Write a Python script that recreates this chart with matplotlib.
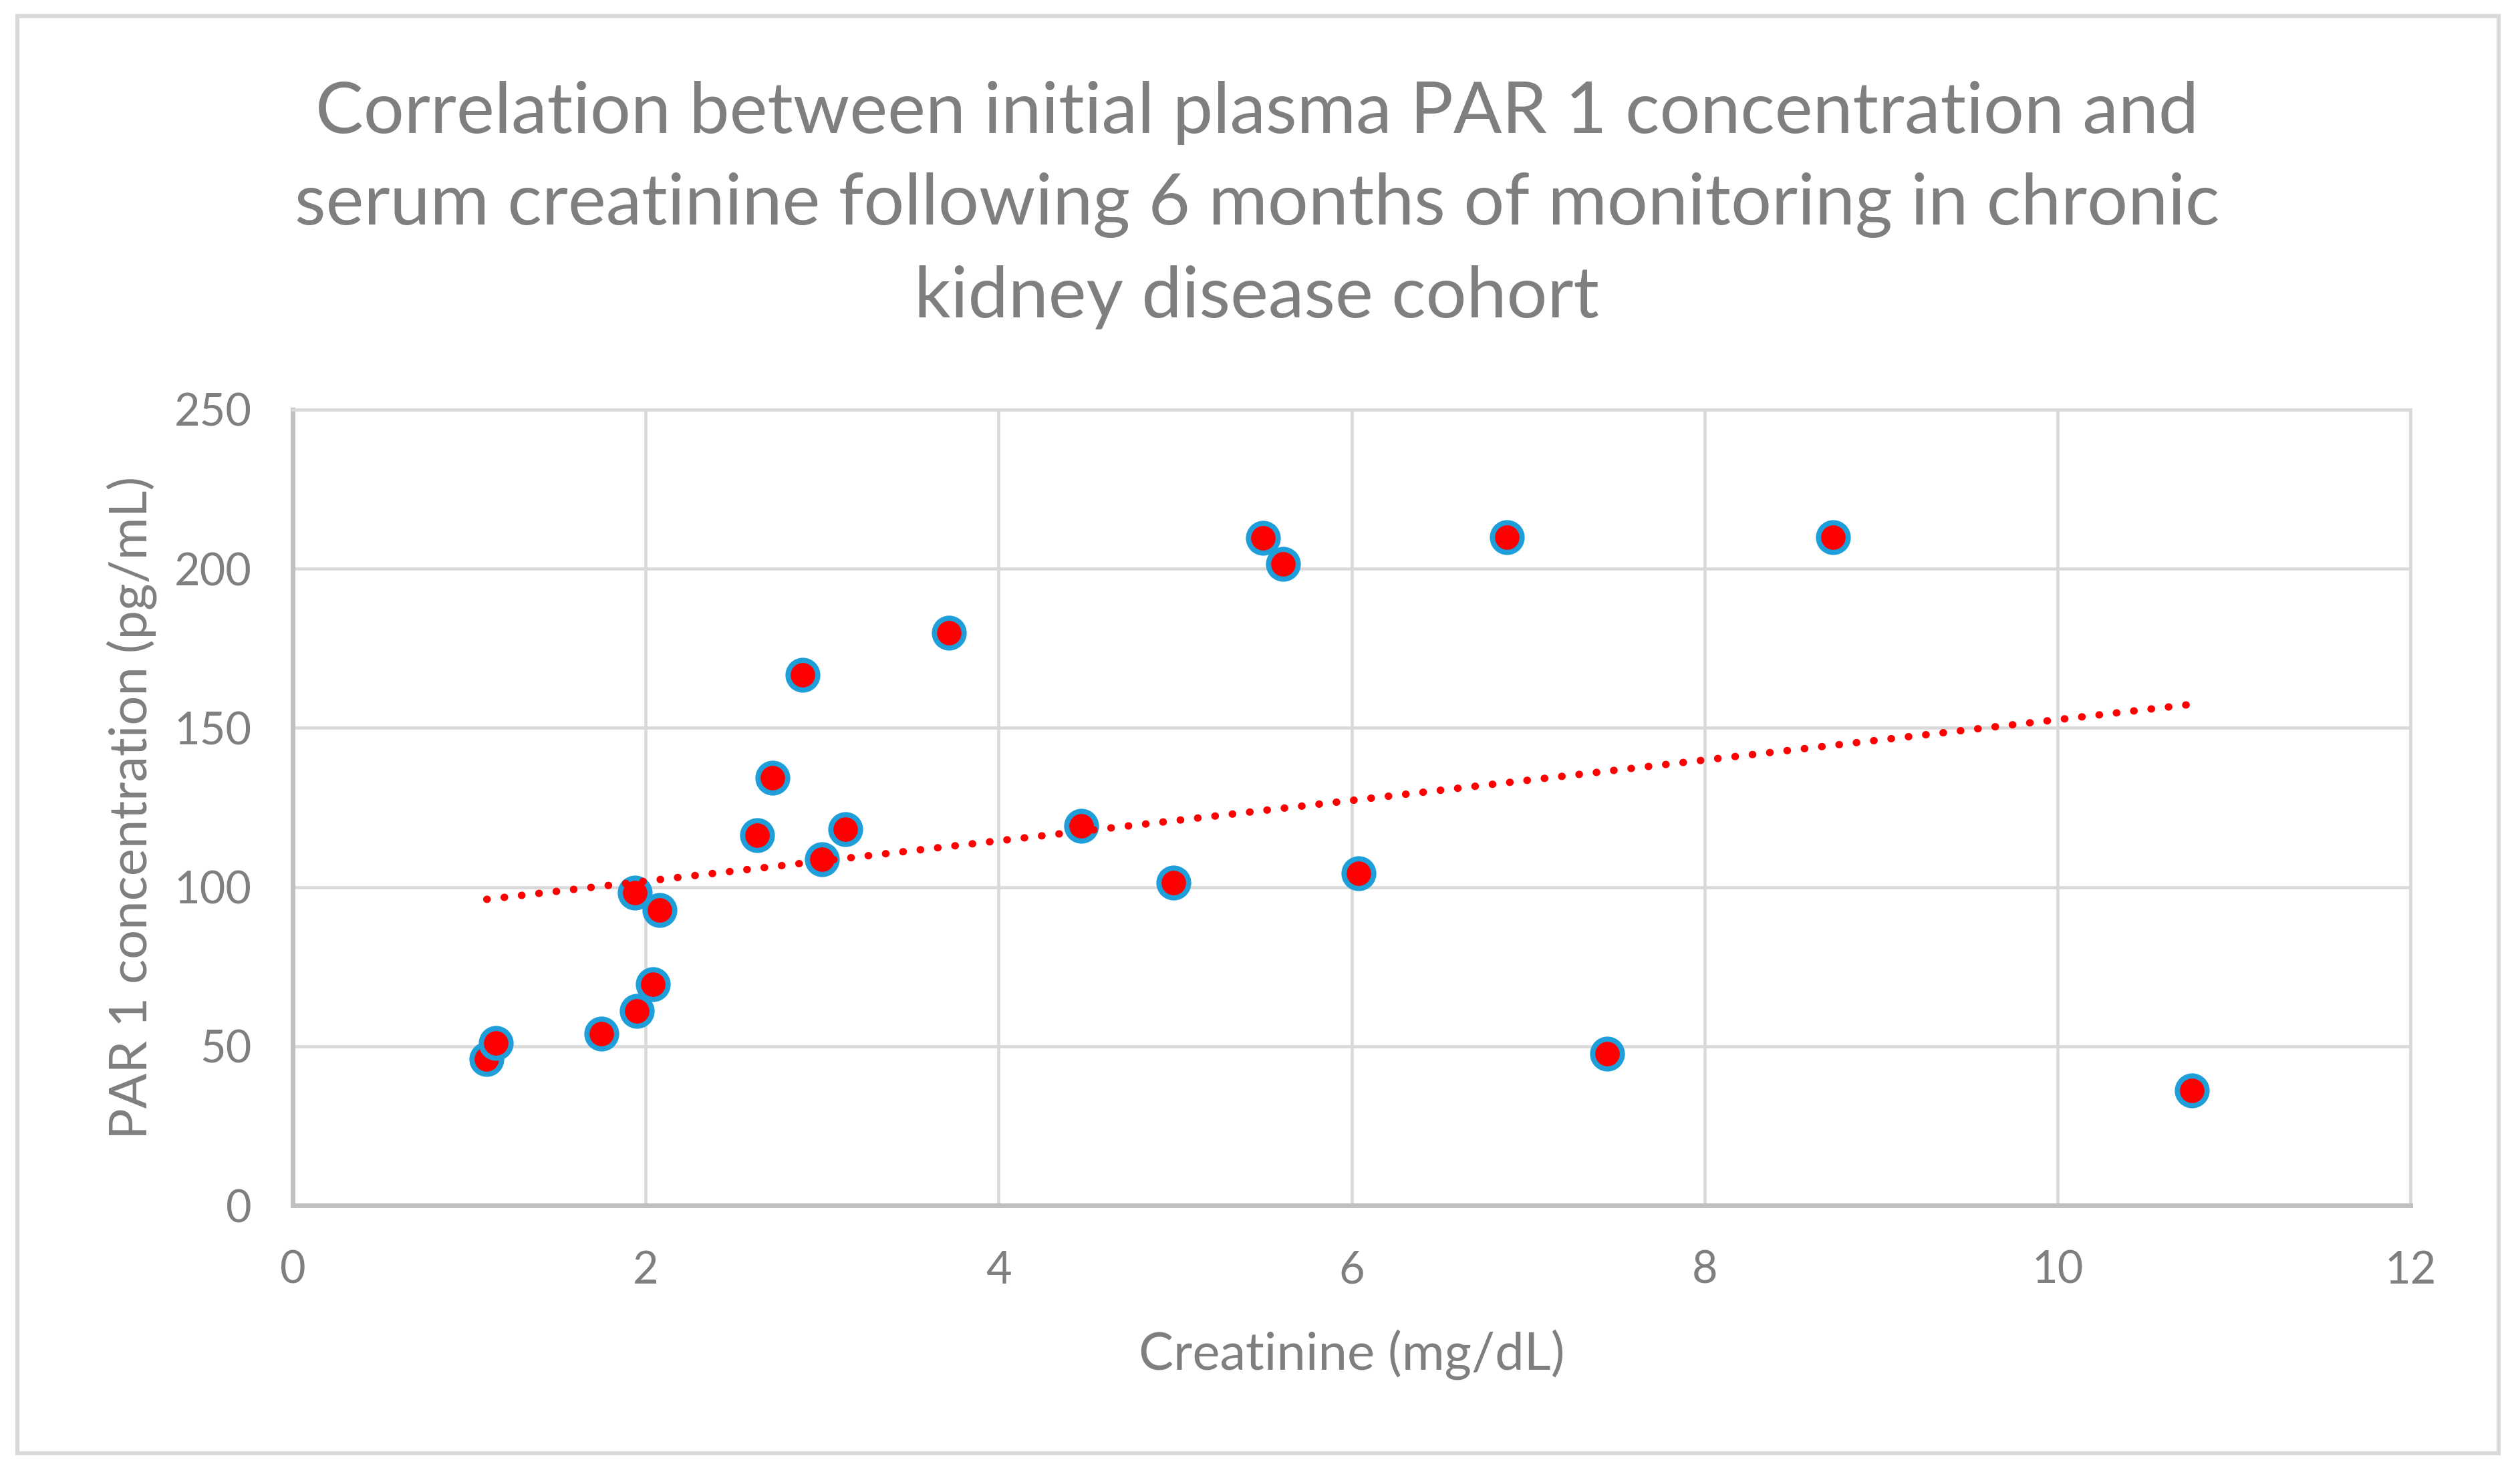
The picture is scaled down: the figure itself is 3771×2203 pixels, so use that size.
import numpy as np
import matplotlib
matplotlib.use("Agg")
import matplotlib.pyplot as plt
from matplotlib.patches import Rectangle

# ---- data ----
creatinine = [1.10, 1.15, 1.75, 1.95, 1.94, 2.04, 2.08, 2.63, 2.72, 2.89, 3.00,
              3.13, 3.72, 4.47, 4.99, 5.50, 5.61, 6.04, 6.88, 7.45, 8.73, 10.76]
par1 = [46.0, 51.0, 54.0, 61.0, 98.3, 69.4, 92.7, 116.2, 134.3, 166.6, 108.7,
        118.1, 179.8, 119.3, 101.4, 209.6, 201.6, 104.4, 209.9, 47.6, 209.9, 36.1]
x_ticks = [0, 2, 4, 6, 8, 10, 12]
y_ticks = [0, 50, 100, 150, 200, 250]

title = ("Correlation between initial plasma PAR 1 concentration and\n"
         "serum creatinine following 6 months of monitoring in chronic\n"
         "kidney disease cohort")
xlabel = "Creatinine (mg/dL)"
ylabel = "PAR 1 concentration (pg/mL)"

# ---- style ----
plt.rcParams['font.family'] = ['Lato', 'DejaVu Sans']
TEXT = '#7F7F7F'
GRID = '#D9D9D9'
AXIS = '#BFBFBF'

W, H, DPI = 3771, 2203, 200
fig = plt.figure(figsize=(W / DPI, H / DPI), dpi=DPI)
fig.patch.set_facecolor('white')

# chart area border
fig.patches.append(Rectangle((26 / W, 1 - 2175 / H), (3739 - 26) / W, (2175 - 24) / H,
                             transform=fig.transFigure, fill=False,
                             edgecolor=GRID, linewidth=2.2, zorder=0))

left, right = 438 / W, 3607 / W
bottom, top = 1 - 1804 / H, 1 - 613 / H
ax = fig.add_axes([left, bottom, right - left, top - bottom])

ax.set_xlim(0, 12)
ax.set_ylim(0, 250)
ax.set_xticks(x_ticks)
ax.set_yticks(y_ticks)
ax.set_xticklabels([str(v) for v in x_ticks])
ax.set_yticklabels([str(v) for v in y_ticks])

ax.grid(True, color=GRID, linewidth=1.65, zorder=0)
ax.set_axisbelow(True)
for s in ['top', 'right']:
    ax.spines[s].set_color(GRID)
    ax.spines[s].set_linewidth(1.65)
for s in ['left', 'bottom']:
    ax.spines[s].set_color(AXIS)
    ax.spines[s].set_linewidth(2.5)

ax.tick_params(axis='both', length=0, labelcolor=TEXT, labelsize=24)
ax.tick_params(axis='y', pad=22)
ax.tick_params(axis='x', pad=24)

# scatter points
ax.plot(creatinine, par1, linestyle='none', marker='o', markersize=16,
        markerfacecolor='#FF0000', markeredgecolor='#1E9FDA', markeredgewidth=2.8,
        zorder=3)

# linear trendline
xs = np.array(creatinine)
coef = np.polyfit(xs, np.array(par1), 1)
xt = np.array([xs.min(), xs.max()])
ax.plot(xt, np.polyval(coef, xt), color='#FF0000', linewidth=4.0,
        linestyle=(0, (0.05, 2.3)), dash_capstyle='round', zorder=4)

ax.set_xlabel(xlabel, fontsize=28, color=TEXT)
ax.set_ylabel(ylabel, fontsize=28, color=TEXT)
ax.xaxis.set_label_coords(0.5, (1804 - 1989) / 1191)
ax.yaxis.set_label_coords((235 - 438) / 3169, 0.5)

fig.text(1881 / W, 1 - 307 / H, title, ha='center', va='center',
         fontsize=38.7, color=TEXT, linespacing=1.53)

fig.savefig('out.png', dpi=DPI, facecolor='white')
